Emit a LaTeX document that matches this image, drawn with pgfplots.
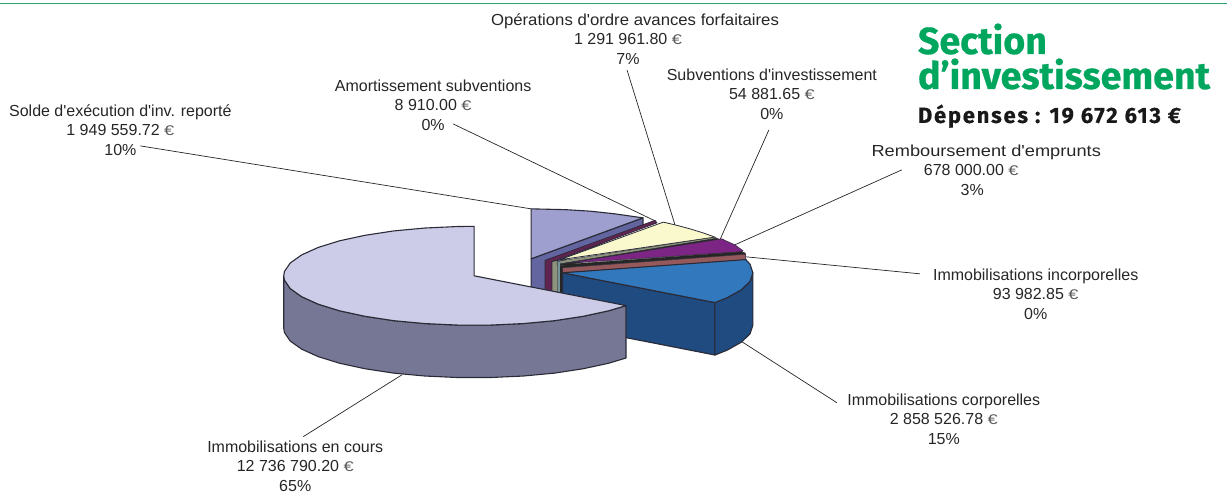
\documentclass[border=0pt]{standalone}
\usepackage{pgfplots}
\usepackage{graphicx}
\pgfplotsset{compat=1.18}
\usepackage{fontspec}
\setmainfont{Liberation Sans}
\newfontfamily\labfont{Liberation Sans}
\newfontfamily\titlefont[BoldFeatures={FakeBold=0.7}]{Fira Sans}
\newfontfamily\subfont[LetterSpace=8,BoldFeatures={FakeBold=0.5}]{Fira Sans}
\definecolor{edge}{HTML}{2B2B38}
\definecolor{bigtop}{HTML}{CCCCE8}
\definecolor{bigside}{HTML}{757795}
\definecolor{peritop}{HTML}{9E9ECF}
\definecolor{periside}{HTML}{62659F}
\definecolor{maroon}{HTML}{5F2450}
\definecolor{olive}{HTML}{8D937C}
\definecolor{cream}{HTML}{FAF8CD}
\definecolor{purp}{HTML}{7D2585}
\definecolor{rose}{HTML}{96595B}
\definecolor{blue1}{HTML}{3278BD}
\definecolor{navy1}{HTML}{1F4B80}
\definecolor{teal1}{HTML}{7FA6A8}
\definecolor{green1}{HTML}{00A65D}
\definecolor{rule1}{HTML}{2E9E6B}
\newcommand{\lab}[4]{\node[align=center,inner sep=0pt,text=black!85,font=\labfont\fontsize{16}{19.5}\selectfont] at (axis cs:#1,#2) {#3\\#4};}
\newcommand{\eur}{{\fontsize{14}{14}\selectfont\color{black!65}\scalebox{1.3}[1]{€}}}
\begin{document}
\begin{tikzpicture}
\begin{axis}[
  at={(0,0)}, anchor=south west,
  width=1227pt, height=494pt, scale only axis,
  xmin=0, xmax=1227, ymin=0, ymax=494, y dir=reverse,
  hide axis, clip=false,
  every axis plot/.append style={line join=round, line width=1.1pt, draw=edge},
]
\path (axis cs:0,0) (axis cs:1227,494);
% rule
\addplot[draw=rule1,line width=0.9pt] coordinates {(0,3.5) (1227,3.5)};
% leader lines
\addplot[draw=black!85,line width=0.7pt] coordinates {(140,146) (531,209)};
\addplot[draw=black!85,line width=0.7pt] coordinates {(453,124) (655,221)};
\addplot[draw=black!85,line width=0.7pt] coordinates {(627,70) (675,225)};
\addplot[draw=black!85,line width=0.7pt] coordinates {(769,130) (720,240)};
\addplot[draw=black!85,line width=0.7pt] coordinates {(902,170) (735,245)};
\addplot[draw=black!85,line width=0.7pt] coordinates {(920,274) (746,257)};
\addplot[draw=black!85,line width=0.7pt] coordinates {(837,403) (742,342)};
\addplot[draw=black!85,line width=0.7pt] coordinates {(303,437) (402,375)};
% periwinkle slice
\addplot[fill=periside] coordinates {(531,259) (643,218) (643,225) (560,262) (560,295) (531,295)} -- cycle;
\addplot[fill=peritop] coordinates {(531,259) (531,209) (565,209.8) (590,211.3) (615,214) (643,218)} -- cycle;
% maroon slice
\addplot[fill=maroon,line width=0.7pt] coordinates {(545,260.5) (655,220.5) (657,223) (552,262) (552,296) (545,296)} -- cycle;
% olive and cream
\addplot[fill=olive,line width=0.6pt] coordinates {(552,261.8) (558,260.5) (558,296) (552,296)} -- cycle;
\addplot[fill=cream,line width=0.8pt] coordinates {(559.5,260) (663.3,222.3) (675,225) (690,229) (703,233) (715,237.3)} -- cycle;
% thin stripes
\addplot[fill=olive,line width=0.4pt] coordinates {(557,261.5) (715,237.3) (717,238.5) (557,264.5)} -- cycle;
\addplot[fill=black!85,draw=black!85,line width=0.3pt] coordinates {(558,264.5) (717,238.5) (720,239.5) (558,266.5)} -- cycle;
\addplot[fill=teal1,line width=0.3pt] coordinates {(558,262) (560,261) (560,296) (558,296)} -- cycle;
\addplot[fill=black!85,draw=black!85,line width=0.3pt] coordinates {(560,266) (563,266) (563,296) (560,296)} -- cycle;
% purple
\addplot[fill=purp,line width=0.5pt] coordinates {(566,263.5) (722,239) (725,240.5) (735,245) (743.3,251) (741.7,252)} -- cycle;
\addplot[fill=black!85,draw=black!85,line width=0.3pt] coordinates {(560,267.5) (566,264.5) (741.7,252) (745,253) (746,254.5) (562,268)} -- cycle;
% thin rose slice
\addplot[fill=rose,line width=0.5pt] coordinates {(562.7,268) (745.5,254.5) (746,260) (562.7,273)} -- cycle;
% navy slice: side faces
\addplot[fill=navy1] coordinates {(562.5,273) (715,302.8) (715,355.3) (562.5,325.5)} -- cycle;
\addplot[fill=navy1] coordinates {(715,302.8) (727.5,297.8) (741.5,289.9) (750.1,281.6) (753,273) (753,325.5) (750.1,334.1) (741.5,342.4) (727.5,350.3) (715,355.3)} -- cycle;
% blue top
\addplot[fill=blue1] coordinates {(562.5,273) (715,302.8) (727.5,297.8) (741.5,289.9) (750.1,281.6) (753,273) (750.1,264.4) (746,259.8)} -- cycle;
% big slice side
\addplot[fill=bigside] coordinates {(626,305.8) (608.7,311) (583.3,316.5) (554.5,320.9) (523.3,323.8) (490.6,325.3) (457.4,325.3) (424.7,323.8) (393.5,320.9) (364.7,316.5) (339.3,311) (318,304.4) (301.4,296.9) (290,288.8) (284.2,280.3) (283.5,276)
 (283.5,328.5) (284.2,332.8) (290,341.3) (301.4,349.4) (318,356.9) (339.3,363.5) (364.7,369) (393.5,373.4) (424.7,376.3) (457.4,377.8) (490.6,377.8) (523.3,376.3) (554.5,373.4) (583.3,369) (608.7,363.5) (626,358.3)} -- cycle;
% big slice top
\addplot[fill=bigtop] coordinates {(474,276) (626,305.8) (608.7,311) (583.3,316.5) (554.5,320.9) (523.3,323.8) (490.6,325.3) (457.4,325.3) (424.7,323.8) (393.5,320.9) (364.7,316.5) (339.3,311) (318,304.4) (301.4,296.9) (290,288.8) (284.2,280.3) (283.5,276) (284.2,271.7) (290,263.2) (301.4,255.1) (318,247.6) (339.3,241) (364.7,235.5) (393.5,231.1) (424.7,228.2) (457.4,226.7) (474,226.5)} -- cycle;
% labels
\lab{635}{39}{\scalebox{1.047}[1]{Opérations d'ordre avances forfaitaires}\\\hspace*{-14pt}1 291 961.80 \eur}{\hspace*{-14pt}7\%}
\lab{772}{94}{Subventions d'investissement\\54 881.65 \eur}{0\%}
\lab{986.5}{170}{\scalebox{1.14}[1]{Remboursement d'emprunts}\\\hspace*{-30pt}678 000.00 \eur}{\hspace*{-28pt}3\%}
\lab{433}{105}{Amortissement subventions\\8 910.00 \eur}{0\%}
\lab{120}{130}{Solde d'exécution d'inv. reporté\\1 949 559.72 \eur}{10\%}
\lab{1036}{294.5}{Immobilisations incorporelles\\93 982.85 \eur}{0\%}
\lab{944}{419.5}{Immobilisations corporelles\\2 858 526.78 \eur}{15\%}
\lab{295}{466.5}{Immobilisations en cours\\12 736 790.20 \eur}{65\%}
% title
\node[anchor=base west,inner sep=0pt,text=green1] at (axis cs:918,54) {\titlefont\bfseries\fontsize{37.6}{38}\selectfont Section};
\node[anchor=base west,inner sep=0pt,text=green1] at (axis cs:918,89) {\titlefont\bfseries\fontsize{37.6}{38}\selectfont d’investissement};
\node[anchor=base west,inner sep=0pt,text=black!90] at (axis cs:918,123) {\subfont\bfseries\fontsize{22}{22}\selectfont Dépenses : 19 672 613 €};
\end{axis}
\end{tikzpicture}
\end{document}
